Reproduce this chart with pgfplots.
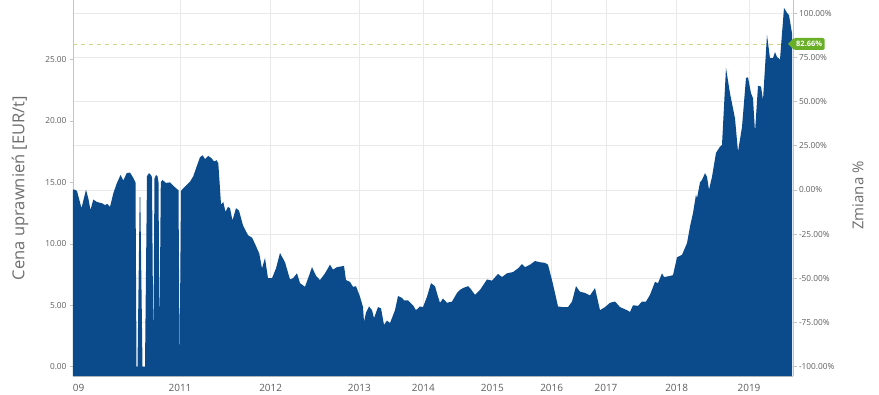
\documentclass[border=0pt]{standalone}
\usepackage{pgfplots}
\usepackage{pgfplotstable}
\pgfplotsset{compat=1.18}
\usepackage{fontspec}
\setmainfont{Open Sans}
\definecolor{areablue}{HTML}{0B4A8B}
\definecolor{gridgray}{HTML}{E9E9E9}
\definecolor{labgray}{HTML}{5E5E5E}
\definecolor{titlegray}{HTML}{6E6E6E}
\definecolor{axisgray}{HTML}{C4C4C4}
\definecolor{dashcol}{HTML}{C9D68C}
\definecolor{taggreen}{HTML}{6AAF28}

\pgfplotstableread{
x y
73 -0.76
73 14.4
75 14.4
77 14.3
81.5 12.9
86 14.4
88.3 13.7
90.5 12.75
93.3 13.6
97 13.4
102 13.3
105 13.15
107.3 13.25
110 13.0
113.3 14.1
116.7 14.9
120.5 15.6
123.3 15.15
126.7 15.75
130 15.8
133 15.4
135.5 15.0
136.5 0
137.5 0
139.7 13.8
140.3 13.8
142.5 0
145 0
147 15.5
149 15.75
151 15.6
152 15.4
153.3 1.5
154.5 15.3
156 15.6
157.5 15.5
158.5 15.0
159.5 2.5
160.8 15.0
162.5 15.2
166 14.95
170 15.0
175 14.6
178.5 14.35
179.6 0.3
181 14.3
183 14.5
186.7 14.8
190 15.05
193.3 15.5
196.7 16.3
200 17.05
202.7 17.2
205 16.9
208.3 17.15
211.7 16.95
214 16.7
216.7 16.8
218.3 16.55
220 14.5
221 13.2
223.3 13.4
225.5 12.6
228 13.0
230 12.9
232.5 11.9
236 12.9
239 12.7
243 11.5
248 10.7
252 10.5
255 10.0
259.3 9.2
262 8.0
265 8.85
268 7.2
272 7.2
276 8.0
280 9.25
285 8.5
290 7.1
293 7.2
297 7.6
300 6.8
305 6.5
309 7.4
312 8.1
316 7.4
320 7.05
325 7.6
330 8.3
333 7.9
337 8.1
344 8.2
346 7.05
350 6.9
353 6.5
356 6.55
360 5.7
363 4.85
364 3.65
366 4.4
369 4.9
372 4.6
374 3.95
378 4.85
381 4.75
384 3.4
387 3.75
390 3.55
395 4.6
398 5.75
402 5.6
404 5.4
408 5.4
413 5.0
416 4.6
420 4.9
423 4.85
427 5.7
431 6.8
435 6.55
438 5.7
440 5.2
443 5.55
447 5.2
452 5.3
457 6.0
460 6.25
463 6.4
468 6.55
470 6.4
475 5.85
480 6.25
487 7.1
492 7.0
498 7.55
502 7.3
507 7.6
513 7.7
518 8.0
522 8.35
525 8.1
530 8.3
535 8.6
540 8.5
545 8.45
548 8.3
552 7.05
555 6.0
558 4.9
563 4.85
568 4.85
572 5.3
576 6.55
580 6.1
585 6.0
590 5.8
595 6.4
600 4.6
605 4.85
610 5.2
615 5.3
620 4.85
627 4.6
630 4.45
633 5.0
638 4.95
642 5.3
646 5.3
650 5.85
655 6.9
658 6.8
662 7.6
664 7.3
668 7.35
673 7.45
677 8.9
682 9.1
687 10.05
690 11.4
693 12.5
696 14.0
697 13.7
700 15.0
702 15.2
705 15.75
707 15.45
709 14.4
712 15.45
716 17.4
720 17.9
722 18.05
726 24.3
730 22.25
735 20.2
738 17.5
742 19.5
746 23.5
748 23.55
751 22.25
753 21.85
755 19.1
758 22.85
761 22.8
763 21.7
767 27.0
770 25.1
773 25.1
775 25.6
777 25.2
780 25.0
784 29.2
787 28.8
789 28.6
792 27.15
792 -0.76
}\pricedata

\begin{document}
\begin{tikzpicture}
% right axis: percentage change, horizontal grid
\begin{axis}[
  at={(0,0)}, anchor=south west,
  scale only axis, width=720pt, height=376pt,
  xmin=73, xmax=793,
  ymin=-105.26, ymax=107.5,
  axis x line=none,
  axis y line*=right,
  y axis line style={axisgray, line width=0.8pt},
  ytick={-100,-75,...,100},
  ymajorgrids,
  grid style={gridgray, line width=0.6pt},
  tick align=outside,
  major tick length=3.5pt,
  ytick style={axisgray, line width=0.6pt},
  /pgf/number format/assume math mode=true,
  yticklabel={\pgfmathprintnumber[fixed,fixed zerofill,precision=2]{\tick}\%},
  yticklabel style={font=\fontsize{8.3}{10}\selectfont, text=labgray, xshift=-1pt},
  ylabel={Zmiana \%},
  every axis y label/.style={at={(axis description cs:1,0.48)}, rotate=90, anchor=center, yshift=-65pt, font=\fontsize{15}{18}\selectfont, text=titlegray},
]
\end{axis}
% left axis: price
\begin{axis}[
  at={(0,0)}, anchor=south west,
  scale only axis, width=720pt, height=376pt,
  xmin=73, xmax=793,
  ymin=-0.757, ymax=29.84,
  axis y line*=left,
  axis x line*=bottom,
  x axis line style={axisgray, line width=0.8pt},
  y axis line style={axisgray, line width=0.8pt},
  xtick={73,180,270.7,359.3,423.3,492.3,551.7,606,676.7,749},
  xticklabels={{\makebox[0pt][l]{09}},2011,2012,2013,2014,2015,2016,2017,2018,2019},
  xtick style={draw=none},
  xmajorgrids,
  grid style={gridgray, line width=0.6pt},
  xticklabel style={font=\fontsize{10}{12}\selectfont, text=labgray, yshift=-1.5pt},
  ytick={0,5,...,25},
  tick align=outside,
  major tick length=3pt,
  ytick style={axisgray, line width=0.6pt},
  /pgf/number format/assume math mode=true,
  yticklabel={\pgfmathprintnumber[fixed,fixed zerofill,precision=2]{\tick}},
  yticklabel style={font=\fontsize{8.3}{10}\selectfont, text=labgray},
  ylabel={Cena uprawnień [EUR/t]},
  every axis y label/.style={at={(axis description cs:0,0.5)}, rotate=90, anchor=center, yshift=53pt, font=\fontsize{16.5}{19}\selectfont, text=titlegray},
]
\addplot[dashcol, line width=0.8pt, dash pattern=on 4pt off 4pt] coordinates {(73,26.26) (790,26.26)};
\addplot[fill=areablue, draw=none] table[x=x, y=y] {\pricedata};
\coordinate (tag) at (axis cs:788,26.26);
\end{axis}
\fill[taggreen] (tag) -- ++(6pt,6pt) -- ++(0,-12pt) -- cycle;
\node[fill=taggreen, text=white, font=\fontsize{7.5}{9}\selectfont\bfseries, inner xsep=2.5pt, inner ysep=0pt, minimum height=12pt, rounded corners=1.5pt, anchor=west] at ([xshift=5.5pt]tag) {82.66\%};
\pgfresetboundingbox
\useasboundingbox (-73pt,-18pt) rectangle (806pt,376pt);
\end{tikzpicture}
\end{document}
